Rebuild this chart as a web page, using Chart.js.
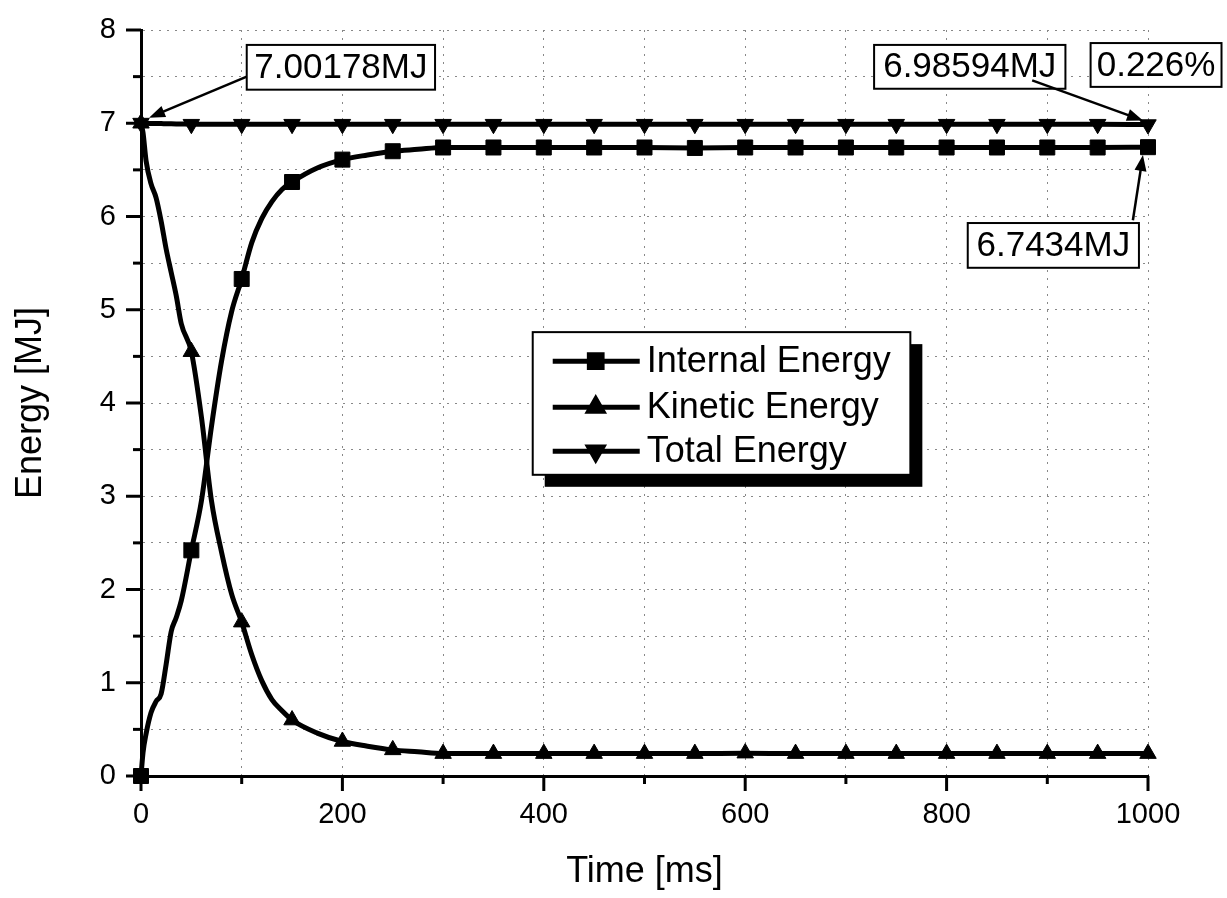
<!DOCTYPE html>
<html><head><meta charset="utf-8">
<script src="https://cdn.jsdelivr.net/npm/chart.js@4.4.1/dist/chart.umd.min.js"></script>
<style>html,body{margin:0;padding:0;background:#fff}#wrap{width:1227px;height:898px;position:relative}</style>
</head><body><div id="wrap"><canvas id="c"></canvas></div>
<script>
// ---- data ----
const timeMs = [0,2,5,10,15,20,25,30,35,40,50,60,70,80,90,100,110,120,130,140,150,175,200,225,250,275,300,350,400,450,500,550,600,650,700,750,800,850,900,950,1000];
const internalEnergy = [0,0.25,0.45,0.68,0.8,0.88,1.2,1.55,1.7,1.88,2.42,2.95,3.75,4.45,4.98,5.33,5.72,5.98,6.16,6.29,6.37,6.52,6.61,6.66,6.70,6.72,6.74,6.74,6.74,6.74,6.74,6.735,6.74,6.74,6.74,6.74,6.74,6.74,6.74,6.74,6.7434];
const kineticEnergy = [7.0,6.9,6.6,6.35,6.2,5.95,5.65,5.4,5.15,4.85,4.55,3.85,2.95,2.4,1.95,1.65,1.3,1.02,0.82,0.7,0.6,0.46,0.37,0.32,0.28,0.26,0.24,0.24,0.24,0.24,0.24,0.24,0.245,0.24,0.24,0.24,0.24,0.24,0.24,0.24,0.24];
const totalEnergy = [7.00178,7.0,6.999,6.998,6.997,6.996,6.995,6.994,6.993,6.992,6.99,6.99,6.99,6.99,6.99,6.99,6.99,6.99,6.99,6.99,6.99,6.99,6.99,6.99,6.99,6.99,6.99,6.99,6.99,6.99,6.99,6.99,6.99,6.99,6.99,6.99,6.99,6.99,6.99,6.99,6.98594];
const seriesLabels = ['Internal Energy','Kinetic Energy','Total Energy'];
const xTickLabels = [0,200,400,600,800,1000];
const yTickLabels = [0,1,2,3,4,5,6,7,8];
const calloutTexts = ['7.00178MJ','6.98594MJ','0.226%','6.7434MJ'];

// ---- layout / style (not data) ----
const FONT = "'Liberation Sans', Arial, sans-serif";
const callouts = [
  {text: calloutTexts[0], box:[105,292,7.84,7.36], arrow:[105,7.5,8,7.06]},
  {text: calloutTexts[1], box:[728,918,7.84,7.37], arrow:[885,7.46,995,7.03]},
  {text: calloutTexts[2], box:[943,1073,7.86,7.39], arrow:null},
  {text: calloutTexts[3], box:[821,991,5.93,5.45], arrow:[985,5.96,995,6.66]}
];
const legendBox = [389,764,4.76,3.23];
const markerStyles = [
  {pointStyle:'rect', rotation:0, r:10.6},
  {pointStyle:'triangle', rotation:0, r:9.5},
  {pointStyle:'triangle', rotation:180, r:9.5}
];

function mkPts(ys){ return timeMs.map((t,i)=>({x:t,y:ys[i]})); }
function ds(label, ys, m){
  return {
    label, data: mkPts(ys),
    borderColor:'#000', backgroundColor:'#000', borderWidth:5,
    pointStyle:m.pointStyle, pointRotation:m.rotation,
    pointRadius:(c)=> (timeMs[c.dataIndex] % 50 === 0 ? m.r : 0),
    pointHoverRadius:0,
    pointBorderWidth:1,
    cubicInterpolationMode:'monotone',
    clip:false
  };
}

function arrow(ctx, x1,y1,x2,y2){
  const a = Math.atan2(y2-y1, x2-x1);
  const L = 16, W = 6;
  ctx.beginPath(); ctx.moveTo(x1,y1); ctx.lineTo(x2 - Math.cos(a)*L*0.8, y2 - Math.sin(a)*L*0.8); ctx.stroke();
  ctx.beginPath();
  ctx.moveTo(x2,y2);
  ctx.lineTo(x2 - Math.cos(a)*L + Math.sin(a)*W, y2 - Math.sin(a)*L - Math.cos(a)*W);
  ctx.lineTo(x2 - Math.cos(a)*L - Math.sin(a)*W, y2 - Math.sin(a)*L + Math.cos(a)*W);
  ctx.closePath(); ctx.fill();
}

const decor = {
  id:'decor',
  afterDraw(chart){
    const ctx = chart.ctx, xs = chart.scales.x, ys = chart.scales.y;
    ctx.save();
    ctx.strokeStyle = '#000'; ctx.fillStyle = '#000'; ctx.lineWidth = 3;
    // tick marks
    const x0 = xs.left, yb = ys.bottom;
    for (let v=0; v<=8; v+=0.5){
      const y = ys.getPixelForValue(v), len = (v%1===0)?15:8;
      ctx.beginPath(); ctx.moveTo(x0-len, y); ctx.lineTo(x0, y); ctx.stroke();
    }
    for (let v=0; v<=1000; v+=100){
      const x = xs.getPixelForValue(v), len = (v%200===0)?15:8;
      ctx.beginPath(); ctx.moveTo(x, yb); ctx.lineTo(x, yb+len); ctx.stroke();
    }
    // callouts
    ctx.font = '35px ' + FONT; ctx.textAlign='center'; ctx.textBaseline='middle';
    ctx.lineWidth = 2;
    callouts.forEach(c=>{
      const l = xs.getPixelForValue(c.box[0]), r = xs.getPixelForValue(c.box[1]);
      const t = ys.getPixelForValue(c.box[2]), b = ys.getPixelForValue(c.box[3]);
      ctx.fillStyle='#fff'; ctx.fillRect(l,t,r-l,b-t);
      ctx.strokeStyle='#000'; ctx.strokeRect(l,t,r-l,b-t);
      ctx.fillStyle='#000'; ctx.fillText(c.text,(l+r)/2,(t+b)/2+1);
      if (c.arrow){
        ctx.lineWidth = 2.5;
        arrow(ctx, xs.getPixelForValue(c.arrow[0]), ys.getPixelForValue(c.arrow[1]),
                   xs.getPixelForValue(c.arrow[2]), ys.getPixelForValue(c.arrow[3]));
        ctx.lineWidth = 2;
      }
    });
    // legend
    const L = xs.getPixelForValue(legendBox[0]), R = xs.getPixelForValue(legendBox[1]);
    const T = ys.getPixelForValue(legendBox[2]), B = ys.getPixelForValue(legendBox[3]);
    ctx.fillStyle='#000'; ctx.fillRect(L+12, T+12, R-L, B-T);
    ctx.fillStyle='#fff'; ctx.fillRect(L,T,R-L,B-T);
    ctx.strokeStyle='#000'; ctx.lineWidth=2; ctx.strokeRect(L,T,R-L,B-T);
    ctx.font = '36px ' + FONT; ctx.textAlign='left'; ctx.textBaseline='middle';
    const rows = [29, 75, 119];
    chart.data.datasets.forEach((d,i)=>{
      const y = T + rows[i];
      ctx.strokeStyle='#000'; ctx.lineWidth=5;
      ctx.beginPath(); ctx.moveTo(L+20,y); ctx.lineTo(L+107,y); ctx.stroke();
      ctx.fillStyle='#000';
      Chart.helpers.drawPoint(ctx, {pointStyle:markerStyles[i].pointStyle, rotation:markerStyles[i].rotation, radius:markerStyles[i].r*0.85, borderWidth:1}, L+63, y);
      ctx.fill();
      ctx.fillText(d.label, L+114, y+1);
    });
    ctx.restore();
  }
};

new Chart(document.getElementById('c'), {
  type:'line',
  data:{ datasets:[
    ds(seriesLabels[0], internalEnergy, markerStyles[0]),
    ds(seriesLabels[1], kineticEnergy, markerStyles[1]),
    ds(seriesLabels[2], totalEnergy, markerStyles[2])
  ]},
  options:{
    responsive:true, maintainAspectRatio:false, animation:false,
    layout:{padding:{top:30,right:79,left:0,bottom:0}},
    plugins:{legend:{display:false}, tooltip:{enabled:false}},
    scales:{
      x:{
        type:'linear', min:0, max:1000,
        afterFit(s){ s.height = 122; s.paddingLeft = 0; s.paddingRight = 0; },
        ticks:{stepSize:100, autoSkip:false, maxRotation:0, padding:22, color:'#000',
          font:{family:FONT, size:29},
          callback:(v)=> xTickLabels.includes(v) ? String(v) : ''},
        grid:{color:'#888', lineWidth:1, drawTicks:false},
        border:{display:true, color:'#000', width:3, dash:[2,6]},
        title:{display:true, text:'Time [ms]', color:'#000', font:{family:FONT, size:36}, padding:{top:0,bottom:4}}
      },
      y:{
        type:'linear', min:0, max:8,
        afterFit(s){ s.width = 141; s.paddingTop = 0; s.paddingBottom = 0; },
        ticks:{stepSize:0.5, autoSkip:false, padding:25, color:'#000',
          font:{family:FONT, size:29},
          callback:(v)=> yTickLabels.includes(v) ? String(v) : ''},
        grid:{color:'#888', lineWidth:1, drawTicks:false},
        border:{display:true, color:'#000', width:3, dash:[2,6]},
        title:{display:true, text:'Energy [MJ]', color:'#000', font:{family:FONT, size:36}, padding:{top:9,bottom:0}}
      }
    }
  },
  plugins:[decor]
});
</script></body></html>
